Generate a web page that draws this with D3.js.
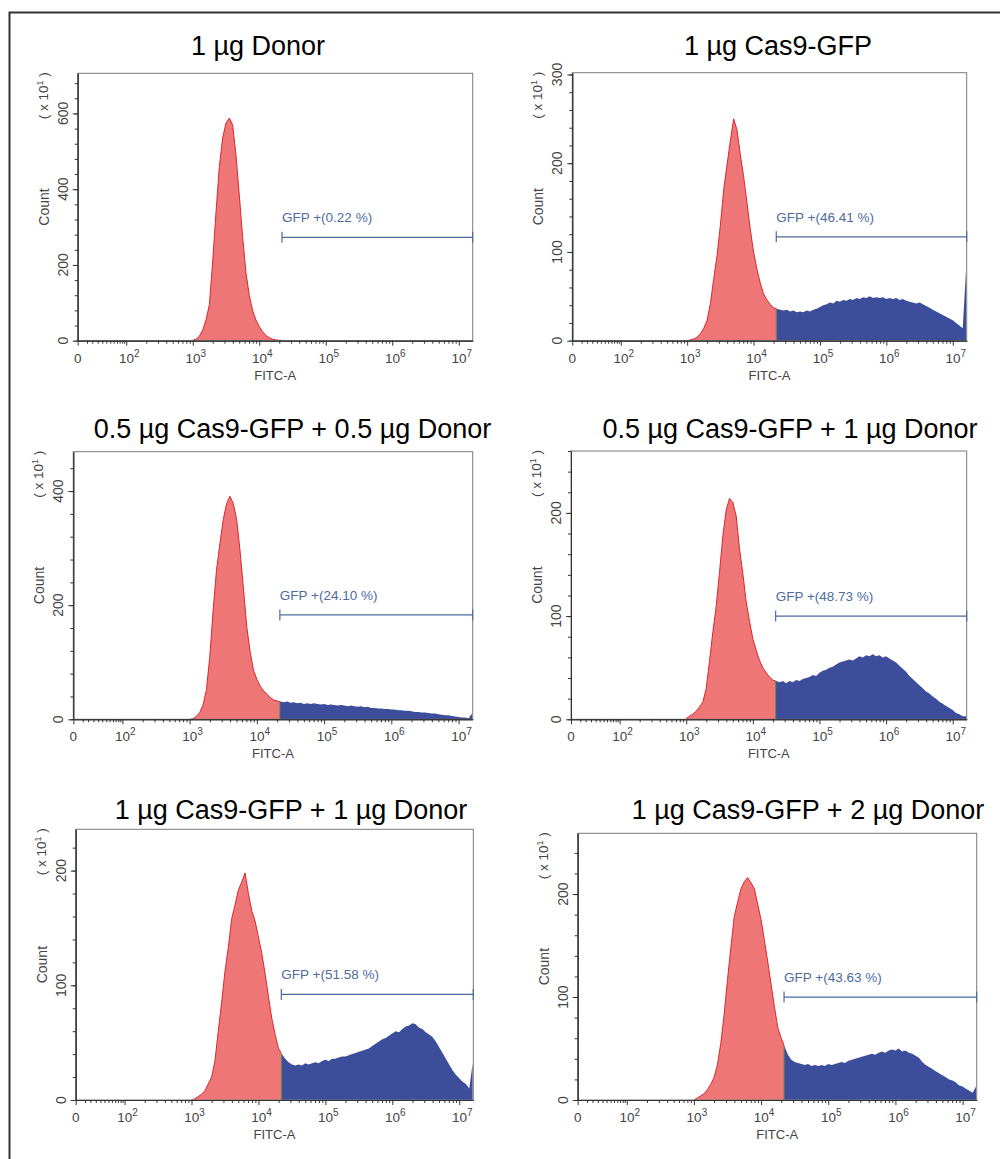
<!DOCTYPE html>
<html>
<head>
<meta charset="utf-8">
<script src="https://cdn.jsdelivr.net/npm/d3@7"></script>
<style>
  body { margin: 0; background: #fff; }
  svg { font-family: Arial, "Liberation Sans", sans-serif; }
</style>
</head>
<body>
<svg id="fig" width="1000" height="1159"></svg>
<script>
// histogram bins: log10(FITC-A), first bin centre and width
var binStart = 3.0, binStep = 0.05;
var gateLog = 4.342;   // GFP+ gate start (~2.2e4)

var titles = ["1 \u00b5g Donor", "1 \u00b5g Cas9-GFP",
              "0.5 \u00b5g Cas9-GFP + 0.5 \u00b5g Donor", "0.5 \u00b5g Cas9-GFP + 1 \u00b5g Donor",
              "1 \u00b5g Cas9-GFP + 1 \u00b5g Donor", "1 \u00b5g Cas9-GFP + 2 \u00b5g Donor"];
var gfpPercents = ["0.22", "46.41", "24.10", "48.73", "51.58", "43.63"];
var gateLevels = [273, 117, 183, 100, 92, 100];
var yMaxes = [706, 302, 469, 260, 236, 259];
var yMajorSteps = [200, 100, 200, 100, 100, 100];

var xTickValues = [1.27, 2, 3, 4, 5, 6, 7];
var xTickExps = ["", "2", "3", "4", "5", "6", "7"];
var xTickBases = ["0", "10", "10", "10", "10", "10", "10"];
var xLowMinor = [1.41, 1.49, 1.57, 1.64, 1.70, 1.76, 1.81, 1.86, 1.90, 1.94, 1.97];

// counts (x10) per bin, 3.00 .. 7.20
var countsDonor = [1,4,12,28,55,95,210,340,460,535,575,588,570,490,385,275,180,120,80,55,38,24,14,8,4,2,1,
  1,0,0,0,0,0,0,0,0,0, 0,0,0,0,0,0,0,0,0,0, 0,0,0,0,0,0,0,0,0,0, 0,0,0,0,0,0,0,0,0,0, 0,0,0,0,0,0,0,0,0,0, 0,0,0,0,0,0,0,0];
var countsCas9 = [0,1,2,4,8,14,23,42,70,96,130,170,198,225,250,238,210,185,156,126,100,81,65,53,46,41,37,
  36,35,34,35,33,34,32,33,32,34, 33,35,36,38,40,41,43,42,45,44, 46,45,47,46,48,47,49,48,50,48,
  49,48,49,47,48,47,48,46,47,45, 44,43,42,43,41,39,37,35,33,31, 29,27,25,23,20,17,14,80];
var countsHalfHalf = [0,1,5,12,25,52,110,192,262,308,350,378,391,378,350,295,230,162,118,86,70,58,50,44,38,34,32,
  31,30,31,29,30,28,29,27,28,27, 28,27,26,27,25,26,25,24,25,24, 23,24,23,22,23,21,22,20,20,19,
  19,18,18,17,17,16,16,15,15,14, 13,13,12,12,11,10,10,9,8,7, 7,6,5,4,3,3,2,10];
var countsHalfOne = [1,3,5,8,12,17,30,57,85,110,143,178,203,214,210,197,165,141,114,95,78,67,57,50,45,41,38,
  37,36,37,35,37,36,38,37,39,40, 41,43,42,45,47,48,50,51,53,55, 56,57,58,57,59,61,60,62,61,63,
  61,62,60,61,59,57,55,52,49,46, 42,39,36,33,30,27,25,22,20,17, 15,13,11,9,6,5,3,3];
var countsOneOne = [0,1,3,5,8,14,20,34,60,85,112,133,158,170,183,190,198,180,165,156,142,128,110,90,71,57,45,
  40,36,33,31,30,31,30,32,31,32, 33,32,34,35,34,36,36,37,38,38, 39,40,41,42,43,44,45,47,49,51,
  53,54,56,58,60,59,62,64,65,67, 66,63,62,59,57,55,51,46,41,36, 31,26,22,19,16,14,10,32];
var countsOneTwo = [0,2,4,6,10,15,22,34,55,83,117,148,178,192,205,212,216,211,205,190,175,155,134,112,90,70,60,
  52,44,39,37,36,35,34,35,33,34, 33,34,33,35,34,35,36,37,36,38, 39,40,41,42,43,44,45,44,46,47,
  46,48,49,48,50,47,48,46,45,43, 41,37,34,32,30,28,26,24,22,20, 19,17,14,13,11,9,7,13];
var allCounts = [countsDonor, countsCas9, countsHalfHalf, countsHalfOne, countsOneOne, countsOneTwo];

// layout
var boxes = [
  {l: 77.7, r: 472.7, t: 73.3, b: 340.7},
  {l: 572.3, r: 966.7, t: 72.7, b: 340.7},
  {l: 73.3, r: 472.7, t: 451.7, b: 719.3},
  {l: 571, r: 966.7, t: 451, b: 719.3},
  {l: 75.7, r: 473.3, t: 829.3, b: 1100},
  {l: 577.7, r: 976.7, t: 833.3, b: 1100}
];
var titlePos = [[258, 55], [778, 55], [292.5, 438], [790, 438], [291, 819], [808, 819]];

var redFill = '#ef7676', redLine = '#d8282e', blueFill = '#3b4d9b', gateColor = '#4d6b9f', axisColor = '#333';

var svg = d3.select('#fig');
svg.append('rect').attr('width', 1000).attr('height', 1159).attr('fill', '#fff');

// outer frame (top and left edges)
svg.append('path').attr('d', 'M9.5,1159V12.5H1000').attr('fill', 'none').attr('stroke', '#333').attr('stroke-width', 2);

// minor tick positions between decades
var xMinor = [];
xLowMinor.forEach(function(v) { xMinor.push(v); });
[2, 3, 4, 5, 6].forEach(function(e) {
    [2, 3, 4, 5, 6, 7, 8, 9].forEach(function(k) { xMinor.push(e + Math.log10(k)); });
});
[2, 3, 4, 5, 6, 7, 8, 9].forEach(function(k) { if (7 + Math.log10(k) < 7.21) xMinor.push(7 + Math.log10(k)); });

allCounts.forEach(function(counts, p) {
    var box = boxes[p];
    var xScale = d3.scaleLinear().domain([1.27, 7.21]).range([box.l, box.r]);
    var yScale = d3.scaleLinear().domain([0, yMaxes[p]]).range([box.b, box.t]);
    var pts = counts.map(function(c, i) { return {lx: binStart + i * binStep, c: c}; });
    var g = svg.append('g');
    var gx = xScale(gateLog);

    // clip regions: below / above gate
    var redId = 'clipRed' + p, blueId = 'clipBlue' + p;
    var defs = svg.append('defs');
    defs.append('clipPath').attr('id', redId).append('rect')
        .attr('x', box.l).attr('y', box.t).attr('width', gx - box.l).attr('height', box.b - box.t);
    defs.append('clipPath').attr('id', blueId).append('rect')
        .attr('x', gx).attr('y', box.t).attr('width', box.r - gx).attr('height', box.b - box.t);

    var area = d3.area().x(function(d) { return xScale(d.lx); })
                 .y0(yScale(0)).y1(function(d) { return yScale(d.c); });
    var line = d3.line().x(function(d) { return xScale(d.lx); })
                 .y(function(d) { return yScale(d.c); });

    g.append('path').attr('d', area(pts)).attr('fill', blueFill).attr('clip-path', 'url(#' + blueId + ')');
    g.append('path').attr('d', area(pts)).attr('fill', redFill).attr('clip-path', 'url(#' + redId + ')');
    g.append('path').attr('d', line(pts)).attr('fill', 'none').attr('stroke', redLine)
        .attr('stroke-width', 1).attr('clip-path', 'url(#' + redId + ')');

    // thin boundary at the gate
    var gi = Math.floor((gateLog - binStart) / binStep), gt = (gateLog - binStart) / binStep - gi;
    var gv = counts[gi] * (1 - gt) + counts[gi + 1] * gt;
    g.append('line').attr('x1', gx).attr('x2', gx).attr('y1', yScale(0)).attr('y2', yScale(gv))
        .attr('stroke', '#6f7d4b').attr('stroke-width', 1);

    // plot frame
    g.append('rect').attr('x', box.l).attr('y', box.t).attr('width', box.r - box.l).attr('height', box.b - box.t)
        .attr('fill', 'none').attr('stroke', '#7a7a7a').attr('stroke-width', 1);

    // x axis
    var xAxisMajor = d3.axisBottom(xScale).tickValues(xTickValues).tickFormat('').tickSizeInner(5).tickSizeOuter(0);
    var xAxisMinor = d3.axisBottom(xScale).tickValues(xMinor).tickFormat('').tickSizeInner(3).tickSizeOuter(0);
    g.append('g').attr('transform', 'translate(0,' + box.b + ')').call(xAxisMinor);
    g.append('g').attr('transform', 'translate(0,' + box.b + ')').call(xAxisMajor);

    // y axis
    var step = yMajorSteps[p];
    var yMajor = d3.range(0, yMaxes[p] + 0.01, step);
    var yMinor = d3.range(0, yMaxes[p] + 0.01, step / 5);
    var yAxisMajor = d3.axisLeft(yScale).tickValues(yMajor).tickFormat('').tickSizeInner(5).tickSizeOuter(0);
    var yAxisMinor = d3.axisLeft(yScale).tickValues(yMinor).tickFormat('').tickSizeInner(3).tickSizeOuter(0);
    g.append('g').attr('transform', 'translate(' + box.l + ',0)').call(yAxisMinor);
    g.append('g').attr('transform', 'translate(' + box.l + ',0)').call(yAxisMajor);
    g.selectAll('.domain, .tick line').attr('stroke', axisColor);

    // x tick labels with superscripts
    xTickValues.forEach(function(v, i) {
        var t = g.append('text').attr('x', xScale(v) + (xTickExps[i] ? 3 : 0)).attr('y', box.b + 22)
            .attr('text-anchor', 'middle').attr('font-size', 13.5).attr('fill', '#444');
        t.append('tspan').text(xTickBases[i]);
        if (xTickExps[i]) t.append('tspan').attr('dy', -6).attr('font-size', 10).text(xTickExps[i]);
    });
    g.append('text').attr('x', (box.l + box.r) / 2).attr('y', box.b + 39)
        .attr('text-anchor', 'middle').attr('font-size', 13).attr('fill', '#444').text('FITC-A');

    // y tick labels (rotated)
    yMajor.forEach(function(v) {
        g.append('text').attr('transform', 'translate(' + (box.l - 10) + ',' + yScale(v) + ') rotate(-90)')
            .attr('text-anchor', 'middle').attr('font-size', 14).attr('fill', '#444').text(d3.format('d')(v));
    });
    g.append('text').attr('transform', 'translate(' + (box.l - 29) + ',' + ((box.t + box.b) / 2) + ') rotate(-90)')
        .attr('text-anchor', 'middle').attr('font-size', 14).attr('fill', '#444').text('Count');
    var unit = g.append('text').attr('transform', 'translate(' + (box.l - 30) + ',' + (box.t - 1) + ') rotate(-90)')
        .attr('text-anchor', 'end').attr('font-size', 13.5).attr('fill', '#444');
    unit.append('tspan').text('( x 10');
    unit.append('tspan').attr('dy', -5).attr('font-size', 9).text('1');
    unit.append('tspan').attr('dy', 5).text(' )');

    // GFP+ gate
    var gy = yScale(gateLevels[p]);
    g.append('path').attr('d', 'M' + gx + ',' + gy + 'H' + box.r + 'M' + gx + ',' + (gy - 5.5) + 'V' + (gy + 5.5)
            + 'M' + box.r + ',' + (gy - 5.5) + 'V' + (gy + 5.5))
        .attr('fill', 'none').attr('stroke', gateColor).attr('stroke-width', 1.2);
    g.append('text').attr('x', gx).attr('y', gy - 15).attr('font-size', 13.5).attr('fill', gateColor)
        .text('GFP +(' + gfpPercents[p] + ' %)');

    // panel title
    svg.append('text').attr('x', titlePos[p][0]).attr('y', titlePos[p][1])
        .attr('text-anchor', 'middle').attr('font-size', 27).attr('fill', '#000').text(titles[p]);
});
</script>
</body>
</html>
